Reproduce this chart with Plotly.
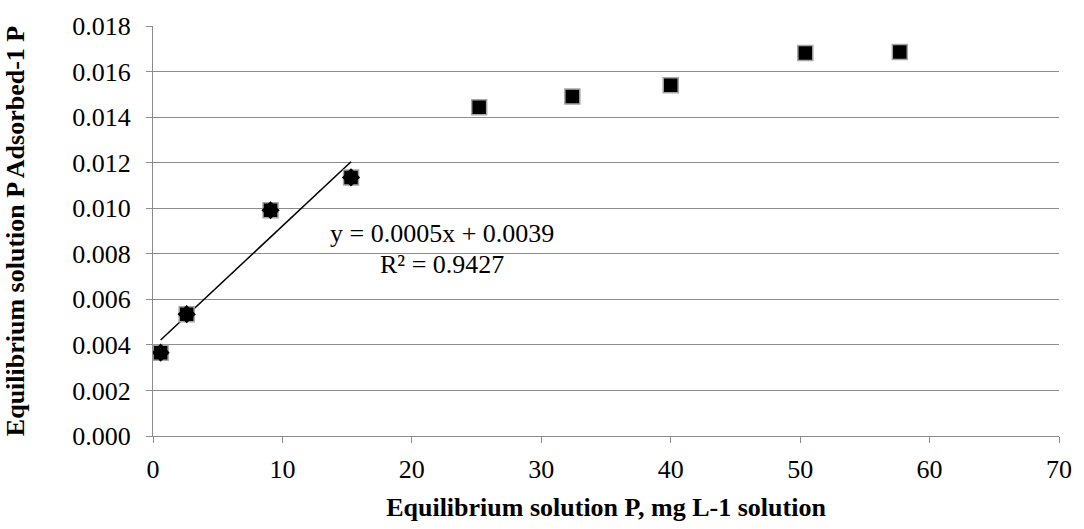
import numpy as np
import plotly.graph_objects as go

# Data
eq_p = [0.59, 2.6, 9.08, 15.3, 25.2, 32.4, 40.0, 50.4, 57.7]
adsorbed = [0.00366, 0.00535, 0.00991, 0.01135, 0.01443, 0.0149, 0.0154, 0.01682, 0.01686]
n_linear = 4  # points used for the linear trendline
eq_label = "y = 0.0005x + 0.0039"
r2_label = "R² = 0.9427"

x_ticks = [0, 10, 20, 30, 40, 50, 60, 70]
y_ticks = [0.000, 0.002, 0.004, 0.006, 0.008, 0.010, 0.012, 0.014, 0.016, 0.018]

FONT = "Liberation Serif"
FS = 26
GRID = "#8c8c8c"

xl = np.array(eq_p[:n_linear])
yl = np.array(adsorbed[:n_linear])
slope, intercept = np.polyfit(xl, yl, 1)
trend_x = [xl.min(), xl.max()]
trend_y = [slope * v + intercept for v in trend_x]

fig = go.Figure()
fig.add_trace(go.Scatter(
    x=trend_x, y=trend_y, mode="lines",
    line=dict(color="black", width=1.5), showlegend=False, hoverinfo="skip"))
fig.add_trace(go.Scatter(
    x=eq_p, y=adsorbed, mode="markers",
    marker=dict(symbol="square", size=15, color="black",
                line=dict(color="#a6a6a6", width=1.5)),
    showlegend=False))
fig.add_trace(go.Scatter(
    x=eq_p[:n_linear], y=adsorbed[:n_linear], mode="markers",
    marker=dict(symbol="diamond", size=14, color="black",
                line=dict(color="black", width=0)),
    showlegend=False))

fig.add_annotation(x=22.3, y=0.00887, xref="x", yref="y",
                   text=eq_label, showarrow=False,
                   font=dict(family=FONT, size=FS, color="black"))
fig.add_annotation(x=22.3, y=0.00754, xref="x", yref="y",
                   text=r2_label, showarrow=False,
                   font=dict(family=FONT, size=FS, color="black"))

fig.update_layout(
    width=1084, height=529,
    margin=dict(l=153, r=21, t=19, b=92),
    paper_bgcolor="white", plot_bgcolor="white",
    font=dict(family=FONT, size=FS, color="black"),
    xaxis=dict(
        range=[0, 70], tickvals=x_ticks, ticktext=[str(v) for v in x_ticks],
        showgrid=False, zeroline=False,
        showline=True, linecolor=GRID, linewidth=1.3,
        ticks="outside", ticklen=6, tickcolor=GRID, tickwidth=1.3,
        ticklabelstandoff=4,
        tickfont=dict(family=FONT, size=FS, color="black"),
        title=dict(text="<b>Equilibrium solution P, mg L-1 solution</b>",
                   font=dict(family=FONT, size=FS, color="black"), standoff=14),
    ),
    yaxis=dict(
        range=[0, 0.018], tickvals=y_ticks, ticktext=[f"{v:.3f}" for v in y_ticks],
        showgrid=True, gridcolor=GRID, gridwidth=1.3, zeroline=False,
        showline=True, linecolor=GRID, linewidth=1.3,
        ticks="outside", ticklen=6, tickcolor=GRID, tickwidth=1.3,
        ticklabelstandoff=10,
        tickfont=dict(family=FONT, size=FS, color="black"),
        title=dict(text="<b>Equilibrium solution P Adsorbed-1 P</b>",
                   font=dict(family=FONT, size=FS, color="black"), standoff=40),
    ),
)

fig.write_html("out.html")
